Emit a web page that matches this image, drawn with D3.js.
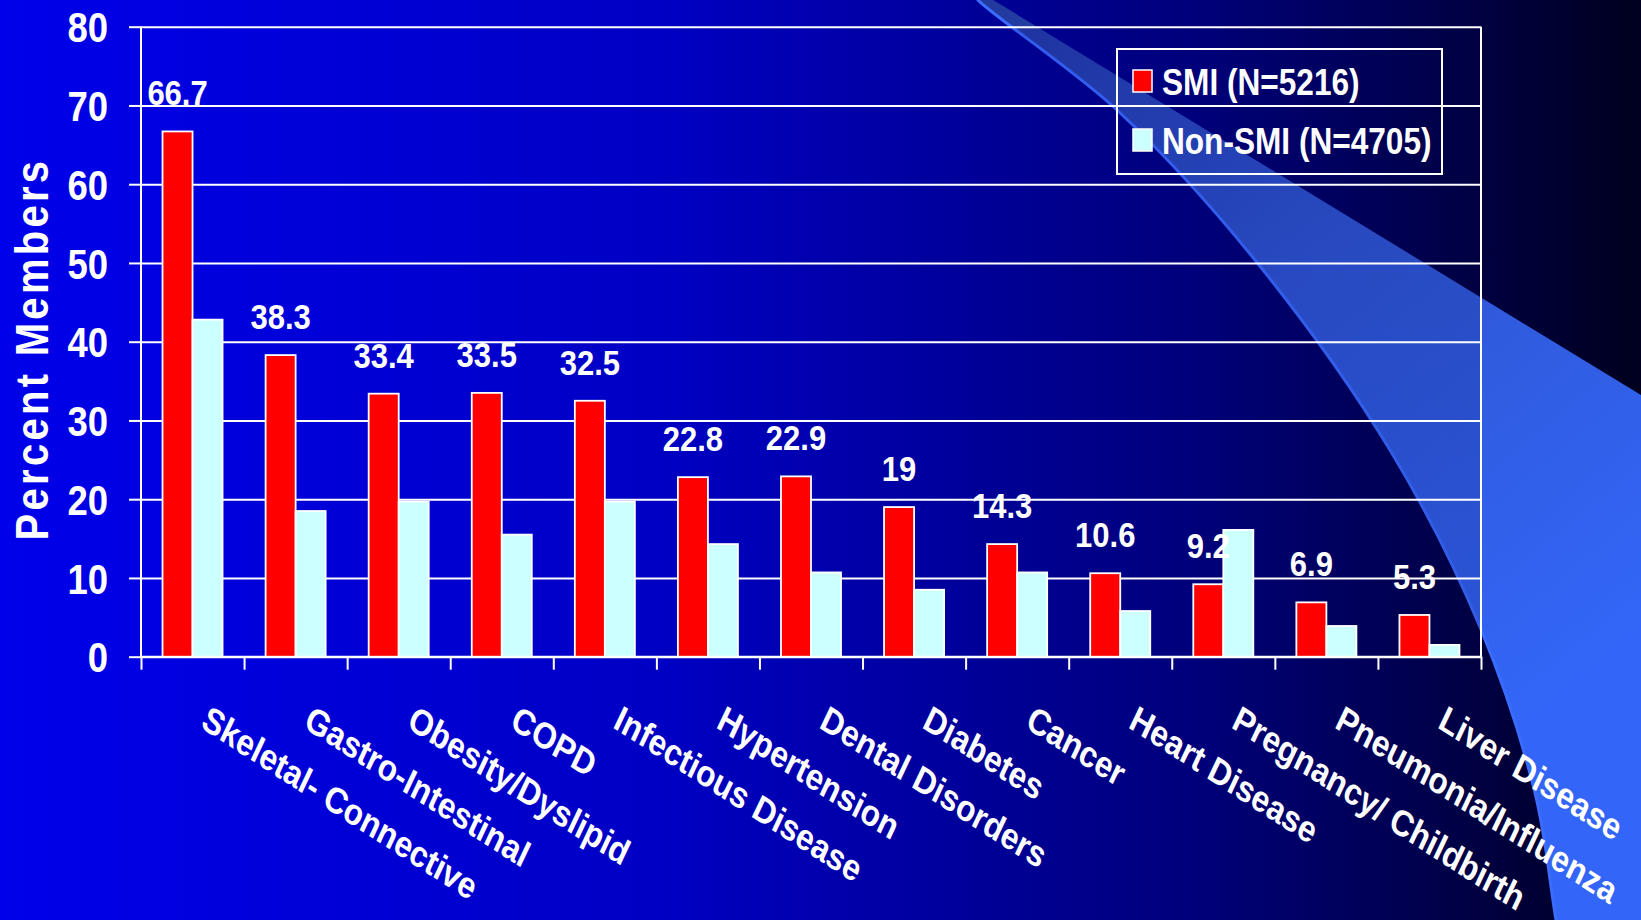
<!DOCTYPE html>
<html><head><meta charset="utf-8">
<script src="https://cdn.jsdelivr.net/npm/d3@7"></script>
<style>html,body{margin:0;padding:0;background:#0000e0;overflow:hidden}</style>
</head><body><svg id="c" width="1641" height="920"></svg>
<script>
const categories = ["Skeletal- Connective","Gastro-Intestinal","Obesity/Dyslipid","COPD","Infectious Disease","Hypertension","Dental Disorders","Diabetes","Cancer","Heart Disease","Pregnancy/ Childbirth","Pneumonia/Influenza","Liver Disease"];
const smiValues = [66.7,38.3,33.4,33.5,32.5,22.8,22.9,19,14.3,10.6,9.2,6.9,5.3];
const nonSmiValues = [42.8,18.5,19.7,15.5,19.7,14.3,10.7,8.5,10.7,5.8,16.1,3.9,1.5];
const seriesNames = ["SMI (N=5216)","Non-SMI (N=4705)"];
const seriesColors = ["#ff0000","#ccffff"];
const yTicks = [0,10,20,30,40,50,60,70,80];
const yTitle = "Percent Members";

const W = 1641, H = 920;
const L = 141, R = 1481, T = 26.7, B = 656.7;
const FONT = "'Liberation Sans', Arial, Helvetica, sans-serif";
const SY = 1.16; // vertical stretch of the original slide text

const svg = d3.select("#c");
const defs = svg.append("defs");

const bg = defs.append("linearGradient").attr("id","bg").attr("gradientUnits","userSpaceOnUse")
  .attr("x1",0).attr("y1",0).attr("x2",W).attr("y2",0);
[[0,"#0000ea"],[0.4,"#0000c4"],[0.73,"#00007a"],[0.86,"#000050"],[1,"#00001e"]]
  .forEach(([o,c])=>bg.append("stop").attr("offset",o).attr("stop-color",c));

const sw = defs.append("linearGradient").attr("id","sw").attr("gradientUnits","userSpaceOnUse")
  .attr("x1",980).attr("y1",0).attr("x2",1560).attr("y2",700);
[[0,"#22399c"],[0.45,"#2e55d0"],[1,"#3366f8"]]
  .forEach(([o,c])=>sw.append("stop").attr("offset",o).attr("stop-color",c));

svg.append("rect").attr("width",W).attr("height",H).attr("fill","url(#bg)");

// decorative swoosh
const lowerEdge = [[1570,1000],[1556,920],[1535,793],[1480,627],[1390,450],[1255,260],[1117,110],[978,0],[975,-5]];
const curve = d3.line().curve(d3.curveCatmullRom.alpha(0.5));
const lowerPath = curve(lowerEdge);
const swooshD = "M1641,1000 L" + lowerPath.slice(1) + " L985,-5 L1641,395 Z";
svg.append("path").attr("d",swooshD).attr("fill","url(#sw)");
svg.append("path").attr("d",lowerPath).attr("fill","none").attr("stroke","#3a6cff").attr("stroke-width",3);
// plot area veil
svg.append("rect").attr("x",L).attr("y",T).attr("width",R-L).attr("height",B-T)
  .attr("fill","url(#bg)").attr("opacity",0.14);

const x0 = d3.scaleBand().domain(categories).range([L,R]).padding(0);
const x1 = d3.scaleBand().domain([0,1]).range([0,x0.bandwidth()]).paddingInner(0).paddingOuter(0.717);
const y = d3.scaleLinear().domain([0,80]).range([B,T]);
const xb = d3.scaleLinear().domain([0,categories.length]).range([L,R]);

// gridlines + y ticks
const gy = svg.append("g").attr("transform",`translate(${L},0)`)
  .call(d3.axisLeft(y).tickValues(yTicks).tickSizeInner(-(R-L)).tickSizeOuter(0).tickFormat(""));
gy.select(".domain").remove();
gy.selectAll("line").attr("stroke","#fff").attr("stroke-width",2);
const gy2 = svg.append("g").attr("transform",`translate(${L},0)`)
  .call(d3.axisLeft(y).tickValues(yTicks).tickSize(12).tickFormat(d3.format("d")));
gy2.select(".domain").remove();
gy2.selectAll("line").attr("stroke","#fff").attr("stroke-width",2);
gy2.selectAll("text").attr("x",null).attr("dy","0.36em")
  .attr("transform",`translate(-33,0) scale(1,${SY})`)
  .attr("fill","#fff").attr("font-family",FONT).attr("font-weight","bold").attr("font-size",36.5)
  .attr("text-anchor","end");

// x boundary ticks
const gx = svg.append("g").attr("transform",`translate(0,${B})`)
  .call(d3.axisBottom(xb).tickValues(d3.range(categories.length+1)).tickSize(13).tickFormat(""));
gx.select(".domain").remove();
gx.selectAll("line").attr("stroke","#fff").attr("stroke-width",2);

// plot frame (left axis, right border, baseline)
svg.append("path").attr("d",`M${L},${T}V${B}H${R}V${T}`).attr("fill","none")
  .attr("stroke","#fff").attr("stroke-width",2);

// bars
const rows = categories.map((c,i)=>({c, v:[smiValues[i], nonSmiValues[i]]}));
const grp = svg.append("g").selectAll("g").data(rows).join("g")
  .attr("transform",d=>`translate(${x0(d.c)},0)`);
grp.selectAll("rect").data(d=>d.v.map((v,k)=>({k,v}))).join("rect")
  .attr("x",d=>x1(d.k)).attr("width",x1.bandwidth())
  .attr("y",d=>y(d.v)).attr("height",d=>B-y(d.v))
  .attr("fill",d=>seriesColors[d.k]).attr("stroke","#fff").attr("stroke-width",1.8);

// value labels over SMI bars
svg.append("g").selectAll("text").data(rows).join("text")
  .attr("transform",d=>`translate(${x0(d.c)+x1(0)+x1.bandwidth()/2},${y(d.v[0])-26}) scale(1,${SY})`)
  .attr("text-anchor","middle").attr("fill","#fff").attr("font-family",FONT)
  .attr("font-weight","bold").attr("font-size",31).text(d=>String(d.v[0]));

// category labels
svg.append("g").selectAll("text").data(categories).join("text")
  .attr("transform",d=>`translate(${x0(d)+x0.bandwidth()/2+7},727) scale(1,${SY}) rotate(29)`)
  .attr("text-anchor","start").attr("fill","#fff").attr("font-family",FONT)
  .attr("font-weight","bold").attr("font-size",31.6).text(d=>d);

// y title
svg.append("text").attr("transform",`translate(48,349) rotate(-90) scale(1,${SY})`)
  .attr("text-anchor","middle").attr("fill","#fff").attr("font-family",FONT)
  .attr("font-weight","bold").attr("font-size",40).attr("letter-spacing",3.3).text(yTitle);

// legend
const lg = svg.append("g");
lg.append("rect").attr("x",1117).attr("y",49).attr("width",325).attr("height",125)
  .attr("fill","none").attr("stroke","#fff").attr("stroke-width",2);
seriesNames.forEach((n,k)=>{
  const by = [95,154][k];
  lg.append("rect").attr("x",1133).attr("y",by-25).attr("width",19).attr("height",22)
    .attr("fill",seriesColors[k]).attr("stroke","#fff").attr("stroke-width",1.5);
  lg.append("text").attr("transform",`translate(1162,${by}) scale(1,${SY})`)
    .attr("fill","#fff").attr("font-family",FONT).attr("font-weight","bold")
    .attr("font-size",31.6).text(n);
});
</script></body></html>
